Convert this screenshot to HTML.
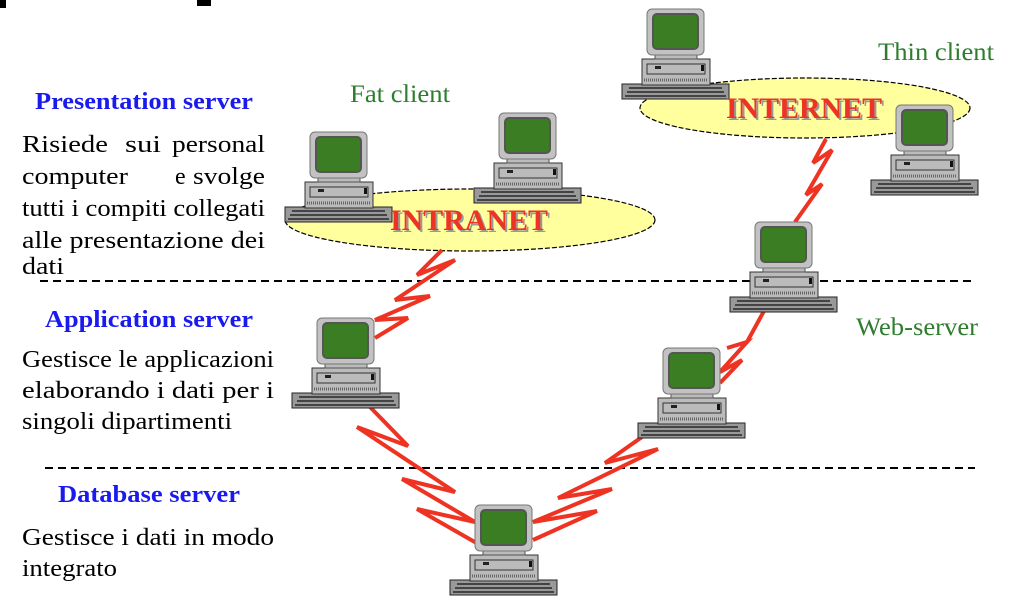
<!DOCTYPE html>
<html><head><meta charset="utf-8"><style>
html,body{margin:0;padding:0;background:#fff;}
svg{display:block;}
.t{font-family:"Liberation Serif",serif;font-size:24px;fill:#000;}
.h{font-family:"Liberation Serif",serif;font-size:24px;font-weight:bold;fill:#1a1aee;}
.g{font-family:"Liberation Serif",serif;font-size:25px;fill:#2e7d2e;}
.net{font-family:"Liberation Serif",serif;font-size:30px;font-weight:bold;}
</style></head><body>
<svg width="1010" height="604" viewBox="0 0 1010 604" xmlns="http://www.w3.org/2000/svg">
<defs>
<g id="pc">
  <rect x="-25" y="75" width="107" height="15" fill="#999" stroke="#222" stroke-width="1"/>
  <g stroke="#444" stroke-width="2">
    <line x1="-18" y1="79" x2="75" y2="79"/><line x1="-20" y1="83" x2="77" y2="83"/><line x1="-22" y1="87" x2="79" y2="87"/>
  </g>
  <rect x="-5" y="50" width="68" height="26" fill="#bbb" stroke="#333" stroke-width="1"/>
  <rect x="0" y="55" width="58" height="10" fill="none" stroke="#333"/>
  <rect x="8" y="57" width="6" height="3" fill="#222"/>
  <rect x="54" y="56" width="3" height="6" fill="#111"/>
  <line x1="-3" y1="71" x2="61" y2="71" stroke="#666" stroke-width="3" stroke-dasharray="1 1"/>
  <rect x="8" y="44" width="42" height="6" fill="#bbb" stroke="#555"/>
  <rect x="0" y="0" width="57" height="46" rx="5" fill="#c2c2c2" stroke="#777"/>
  <rect x="6" y="5" width="45" height="35" rx="4" fill="#3a7d23" stroke="#555" stroke-width="2"/>
</g>
</defs>
<rect x="0" y="0" width="6" height="8" fill="#000"/>
<rect x="197" y="0" width="14" height="6" fill="#000"/>

<line x1="40" y1="281" x2="975" y2="281" stroke="#000" stroke-width="2" stroke-dasharray="8 5"/>
<line x1="45" y1="468" x2="975" y2="468" stroke="#000" stroke-width="2" stroke-dasharray="8 5"/>

<ellipse cx="470" cy="220" rx="185" ry="31" fill="#ffff9e" stroke="#000" stroke-width="1.2" stroke-dasharray="5 2"/>
<ellipse cx="805" cy="108" rx="165" ry="30" fill="#ffff9e" stroke="#000" stroke-width="1.2" stroke-dasharray="5 2"/>

<g fill="none" stroke="#ee3322" stroke-width="4" stroke-linejoin="miter">
  <polyline points="442,250 417,275 455,260 395,300 430,296 375,320 408,318 375,338"/>
  <polyline points="826,139 813,163 832,150 806,195 822,184 795,222"/>
  <polyline points="770,300 747,342 727,348 747,342 720,372 742,360 720,383"/>
  <polyline points="370,407 408,446 357,427 455,492 402,479 475,522 417,509 487,549"/>
  <polyline points="642,437 605,463 658,449 558,498 612,489 533,522 597,511 533,540"/>
</g>

<use href="#pc" x="310" y="132"/>
<use href="#pc" x="499" y="113"/>
<use href="#pc" x="647" y="9"/>
<use href="#pc" x="896" y="105"/>
<use href="#pc" x="755" y="222"/>
<use href="#pc" x="317" y="318"/>
<use href="#pc" x="663" y="348"/>
<use href="#pc" x="475" y="505"/>

<text x="392" y="232" class="net" fill="#999" textLength="158" lengthAdjust="spacingAndGlyphs">INTRANET</text>
<text x="390" y="230" class="net" fill="#ee3322" textLength="158" lengthAdjust="spacingAndGlyphs">INTRANET</text>
<text x="728" y="120" class="net" fill="#999" textLength="156" lengthAdjust="spacingAndGlyphs">INTERNET</text>
<text x="726" y="118" class="net" fill="#ee3322" textLength="156" lengthAdjust="spacingAndGlyphs">INTERNET</text>

<text x="350" y="102" class="g" textLength="100" lengthAdjust="spacingAndGlyphs">Fat client</text>
<text x="878" y="60" class="g" textLength="116" lengthAdjust="spacingAndGlyphs">Thin client</text>
<text x="856" y="335" class="g" textLength="122" lengthAdjust="spacingAndGlyphs">Web-server</text>

<text x="35" y="109" class="h" textLength="218" lengthAdjust="spacingAndGlyphs">Presentation server</text>
<text x="22" y="152" class="t" textLength="86" lengthAdjust="spacingAndGlyphs">Risiede</text>
<text x="125" y="152" class="t" textLength="36" lengthAdjust="spacingAndGlyphs">sui</text>
<text x="172" y="152" class="t" textLength="93" lengthAdjust="spacingAndGlyphs">personal</text>
<text x="22" y="184" class="t" textLength="106" lengthAdjust="spacingAndGlyphs">computer</text>
<text x="175" y="184" class="t">e</text>
<text x="193" y="184" class="t" textLength="72" lengthAdjust="spacingAndGlyphs">svolge</text>
<text x="22" y="216" class="t" textLength="243" lengthAdjust="spacingAndGlyphs">tutti i compiti collegati</text>
<text x="22" y="248" class="t" textLength="243" lengthAdjust="spacingAndGlyphs">alle presentazione dei</text>
<text x="22" y="274" class="t" textLength="42" lengthAdjust="spacingAndGlyphs">dati</text>

<text x="45" y="327" class="h" textLength="208" lengthAdjust="spacingAndGlyphs">Application server</text>
<text x="22" y="367" class="t" textLength="252" lengthAdjust="spacingAndGlyphs">Gestisce le applicazioni</text>
<text x="22" y="398" class="t" textLength="252" lengthAdjust="spacingAndGlyphs">elaborando i dati per i</text>
<text x="22" y="429" class="t" textLength="210" lengthAdjust="spacingAndGlyphs">singoli dipartimenti</text>

<text x="58" y="502" class="h" textLength="182" lengthAdjust="spacingAndGlyphs">Database server</text>
<text x="22" y="545" class="t" textLength="252" lengthAdjust="spacingAndGlyphs">Gestisce i dati in modo</text>
<text x="22" y="576" class="t" textLength="95" lengthAdjust="spacingAndGlyphs">integrato</text>
</svg>
</body></html>
